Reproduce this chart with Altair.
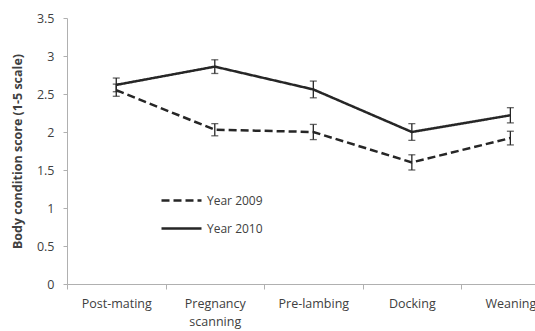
import altair as alt
import pandas as pd

stages = ["Post-mating", "Pregnancy scanning", "Pre-lambing", "Docking", "Weaning"]
pos = [0, 1, 2, 3, 4]
y2009 = [2.55, 2.03, 2.00, 1.60, 1.92]
e2009 = [0.08, 0.08, 0.10, 0.10, 0.09]
y2010 = [2.62, 2.86, 2.56, 2.00, 2.22]
e2010 = [0.09, 0.09, 0.11, 0.11, 0.10]

rows = []
for p, s, v, e in zip(pos, stages, y2009, e2009):
    rows.append({"pos": p, "stage": s, "year": "Year 2009", "bcs": v, "lo": v - e, "hi": v + e})
for p, s, v, e in zip(pos, stages, y2010, e2010):
    rows.append({"pos": p, "stage": s, "year": "Year 2010", "bcs": v, "lo": v - e, "hi": v + e})
df = pd.DataFrame(rows)

FONT = "Open Sans"
TXT = "#404040"
AX = "#b0b0b0"
INK = "#262626"

label_expr = ("datum.value == 0 ? 'Post-mating' : datum.value == 1 ? ['Pregnancy','scanning'] : "
              "datum.value == 2 ? 'Pre-lambing' : datum.value == 3 ? 'Docking' : "
              "datum.value == 4 ? 'Weaning' : ''")

xscale = alt.Scale(domain=[-0.5, 4.25], nice=False, zero=False)
xaxis = alt.Axis(
    values=[-0.5, 0, 0.5, 1, 1.5, 2, 2.5, 3, 3.5, 4],
    labelExpr=label_expr, title=None, grid=False,
    tickOpacity={"condition": {"test": "datum.value % 1 == 0", "value": 0}, "value": 1},
    tickSize=5, tickColor=AX, domainColor=AX, labelPadding=8,
    labelFont=FONT, labelFontSize=12.5, labelColor=TXT, labelLineHeight=18,
    labelOverlap=False, labelFlush=False,
)
yscale = alt.Scale(domain=[0, 3.5], nice=False)
yaxis = alt.Axis(
    values=[0, 0.5, 1, 1.5, 2, 2.5, 3, 3.5], grid=False,
    title="Body condition score (1-5 scale)", titleFont=FONT, titleFontSize=12.5,
    titleFontWeight="bold", titleColor=TXT, titlePadding=12,
    labelFont=FONT, labelFontSize=12.5, labelColor=TXT, labelPadding=9,
    labelOverlap=False, format="~g",
    tickSize=4, tickColor=AX, domainColor=AX,
)

base = alt.Chart(df)
X = alt.X("pos:Q", scale=xscale, axis=xaxis)

lines = base.mark_line(strokeWidth=2.5, color=INK).encode(
    x=X,
    y=alt.Y("bcs:Q", scale=yscale, axis=yaxis),
    strokeDash=alt.StrokeDash(
        "year:N",
        scale=alt.Scale(domain=["Year 2009", "Year 2010"], range=[[8, 4], [1, 0]]),
        legend=alt.Legend(
            title=None, orient="none", legendX=93, legendY=161,
            symbolType="stroke", symbolSize=1600, symbolStrokeWidth=2.5,
            symbolStrokeColor=INK, rowPadding=-1, labelOffset=4,
            labelFont=FONT, labelFontSize=12, labelColor=TXT,
        ),
    ),
    detail="year:N",
)

rules = base.mark_rule(color=INK, strokeWidth=1.3).encode(
    x=X, y=alt.Y("lo:Q", scale=yscale, axis=yaxis), y2="hi:Q",
)
caps_lo = base.mark_tick(color=INK, orient="horizontal", size=7, thickness=1.3).encode(
    x=X, y=alt.Y("lo:Q", scale=yscale, axis=yaxis),
)
caps_hi = base.mark_tick(color=INK, orient="horizontal", size=7, thickness=1.3).encode(
    x=X, y=alt.Y("hi:Q", scale=yscale, axis=yaxis),
)

chart = alt.layer(lines, rules, caps_lo, caps_hi).properties(
    width=468, height=266,
    autosize=alt.AutoSizeParams(type="none"),
    padding={"left": 67, "top": 18, "right": 0, "bottom": 47},
    background="white",
).configure_view(stroke=None)

chart.save("out.html", embed_options={"renderer": "svg", "actions": False})
